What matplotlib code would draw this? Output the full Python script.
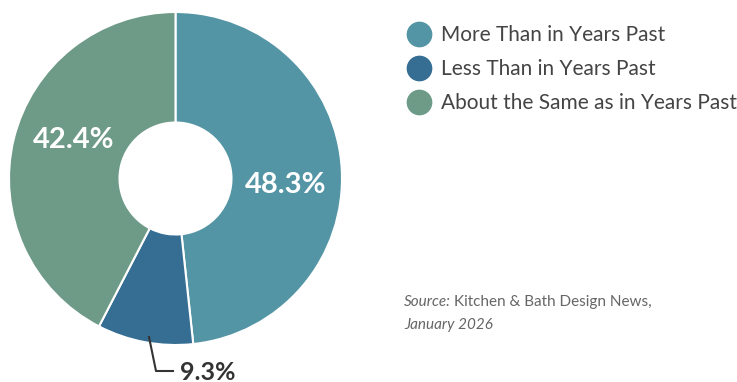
import matplotlib.pyplot as plt
from matplotlib.lines import Line2D
import numpy as np

categories = ['More Than in Years Past', 'Less Than in Years Past', 'About the Same as in Years Past']
values = [48.3, 9.3, 42.4]
colors = ['#5495A5', '#366E93', '#6E9A88']
source_italic = 'Source:'
source_rest = 'Kitchen & Bath Design News,'
source_line2 = 'January 2026'

plt.rcParams['font.family'] = ['Lato', 'DejaVu Sans']

W, H = 737, 382
fig = plt.figure(figsize=(W / 100, H / 100), dpi=100)
ax = fig.add_axes([0, 0, 1, 1])

cx, cy, R, r_in = 175.5, 178.5, 166.5, 56

# y axis is inverted, so counterclock=True draws clockwise on screen
wedges, _ = ax.pie(values, colors=colors, startangle=-90, counterclock=True,
                   center=(cx, cy), radius=R, frame=True,
                   wedgeprops=dict(width=R - r_in, edgecolor='white', linewidth=1.5))
ax.set_xlim(0, W)
ax.set_ylim(H, 0)
ax.set_aspect('equal')
ax.axis('off')

# value labels
ax.text(286, 185, f'{values[0]}%', color='white', fontsize=21, fontweight='bold',
        ha='center', va='center')
ax.text(74, 140, f'{values[2]}%', color='white', fontsize=21, fontweight='bold',
        ha='center', va='center')
ax.plot([149, 156, 173], [337, 371, 371], color='#333333', lw=1.5)
ax.text(180, 372, f'{values[1]}%', color='#333333', fontsize=18, fontweight='bold',
        ha='left', va='center')

# legend
handles = [Line2D([], [], marker='o', ls='none', markersize=17.5, markerfacecolor=c,
                  markeredgecolor=c) for c in colors]
fig.legend(handles, categories, loc='upper left', bbox_to_anchor=(404 / W, 1 - 25 / H),
           frameon=False, fontsize=15, labelcolor='#444444', handletextpad=0.35,
           labelspacing=0.67, borderpad=0, borderaxespad=0, handlelength=1.45)

# source
t = ax.text(404, 302, source_italic, color='#666666', fontsize=11, style='italic',
            ha='left', va='center')
fig.canvas.draw()
bb = t.get_window_extent()
x_end = ax.transData.inverted().transform((bb.x1, bb.y0))[0]
ax.text(x_end + 3, 302, source_rest, color='#666666', fontsize=11, ha='left', va='center')
ax.text(404, 325, source_line2, color='#666666', fontsize=11, style='italic',
        ha='left', va='center')

fig.savefig('out.png', dpi=100)
